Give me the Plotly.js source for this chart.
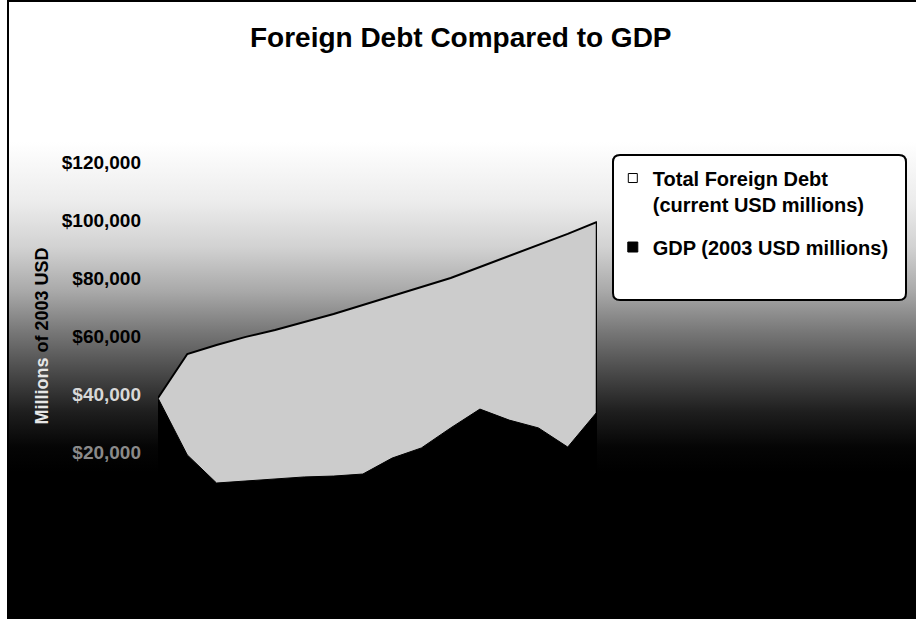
<!DOCTYPE html>
<html>
<head>
<meta charset="utf-8">
<script src="https://cdn.plot.ly/plotly-3.0.1.min.js"></script>
<style>
  html, body { margin: 0; padding: 0; background: #ffffff; overflow: hidden; }
  #wrap { position: relative; width: 916px; height: 619px; overflow: hidden; background: #ffffff; }
  #frame {
    position: absolute; left: 7px; top: 0px; width: 915px; height: 616px;
    border: 2px solid #000000;
    background: linear-gradient(to bottom,
      #ffffff 0px, #ffffff 140px, #ececec 200px, #d2d2d2 245px, #a8a8a8 290px,
      #777777 330px, #4a4a4a 370px, #1e1e1e 410px, #050505 445px, #000000 470px, #000000 619px);
  }
  #chart { position: absolute; left: 0; top: 0; width: 916px; height: 619px; }
</style>
</head>
<body>
<div id="wrap">
  <div id="frame"></div>
  <div id="chart"></div>
</div>
<script>
// Categories (no labels are printed in the reference; 16 evenly spaced periods)
const years = [1990, 1991, 1992, 1993, 1994, 1995, 1996, 1997,
               1998, 1999, 2000, 2001, 2002, 2003, 2004, 2005];

// Total Foreign Debt (current USD millions)
const foreignDebt = [38600, 53800, 56900, 59700, 62100, 64800, 67600, 70700,
                     73800, 76900, 80000, 83800, 87600, 91400, 95200, 99300];

// GDP (2003 USD millions)
const gdp = [38600, 19000, 9300, 10000, 10700, 11400, 11700, 12400,
             17900, 21400, 28300, 34800, 31000, 28300, 21700, 33800];

// Y tick values / labels
const yTickVals = [0, 20000, 40000, 60000, 80000, 100000, 120000];
const yTickText = ['$0', '$20,000', '$40,000', '$60,000', '$80,000', '$100,000', '$120,000'];

const seriesNames = ['Total Foreign Debt<br>(current USD millions)', 'GDP (2003 USD millions)'];

// tick labels sitting on the dark part of the background are drawn light
function tickColor(v) {
  if (v === 40000) return '#d8d8d8';
  if (v === 20000) return '#8a8a8a';
  return '#000000';
}
const styledTicks = yTickText.map((t, i) =>
  '<span style="color:' + tickColor(yTickVals[i]) + '">' + t + '</span>');

const FONT = 'Liberation Sans, Arial, sans-serif';
const lastX = years[years.length - 1];
const lastDebt = foreignDebt[foreignDebt.length - 1];

const traces = [
  { // debt area
    x: years, y: foreignDebt, type: 'scatter', mode: 'lines',
    fill: 'tozeroy', fillcolor: '#cccccc',
    line: { color: '#000000', width: 2 },
    showlegend: false, hoverinfo: 'skip'
  },
  { // debt area right edge (outline of the area)
    x: [lastX, lastX], y: [0, lastDebt], type: 'scatter', mode: 'lines',
    line: { color: '#000000', width: 2.5 },
    showlegend: false, hoverinfo: 'skip'
  },
  { // GDP area
    x: years, y: gdp, type: 'scatter', mode: 'lines',
    fill: 'tozeroy', fillcolor: '#000000',
    line: { color: '#000000', width: 1 },
    showlegend: false, hoverinfo: 'skip'
  },
  { // legend entries
    x: [null], y: [null], type: 'scatter', mode: 'markers',
    name: seriesNames[0], legendgroup: 'a',
    marker: { symbol: 'square', size: 9, color: '#ffffff', line: { color: '#000000', width: 1 } }
  },
  {
    x: [null], y: [null], type: 'scatter', mode: 'markers',
    name: seriesNames[1], legendgroup: 'b',
    marker: { symbol: 'square', size: 10, color: '#000000', line: { color: '#000000', width: 1 } }
  }
];

// legend box frame (rounded rectangle, paper coordinates of the plot area)
const bx0 = (613 - 158) / 439, bx1 = (906 - 158) / 439;
const by0 = (510 - 300) / 348, by1 = (510 - 155) / 348;
const rx = 7 / 439, ry = 7 / 348;
const boxPath = 'M' + (bx0 + rx) + ',' + by1 +
  ' L' + (bx1 - rx) + ',' + by1 + ' Q' + bx1 + ',' + by1 + ' ' + bx1 + ',' + (by1 - ry) +
  ' L' + bx1 + ',' + (by0 + ry) + ' Q' + bx1 + ',' + by0 + ' ' + (bx1 - rx) + ',' + by0 +
  ' L' + (bx0 + rx) + ',' + by0 + ' Q' + bx0 + ',' + by0 + ' ' + bx0 + ',' + (by0 + ry) +
  ' L' + bx0 + ',' + (by1 - ry) + ' Q' + bx0 + ',' + by1 + ' ' + (bx0 + rx) + ',' + by1 + ' Z';

const layout = {
  width: 916, height: 619,
  paper_bgcolor: 'rgba(0,0,0,0)', plot_bgcolor: 'rgba(0,0,0,0)',
  margin: { l: 158, r: 319, t: 162, b: 109, pad: 0 },
  font: { family: FONT, color: '#000000' },
  title: {
    text: 'Foreign Debt Compared to GDP',
    font: { family: FONT, size: 28, weight: 'bold', color: '#000000' },
    x: 0.503, xanchor: 'center', xref: 'container',
    y: 0.94, yanchor: 'middle', yref: 'container'
  },
  xaxis: {
    range: [years[0], lastX], showticklabels: false, showgrid: false,
    zeroline: false, showline: false, ticks: '', fixedrange: true
  },
  yaxis: {
    range: [0, 120000], tickvals: yTickVals, ticktext: styledTicks,
    tickfont: { family: FONT, size: 19, weight: 'bold', color: '#000000' },
    showgrid: false, zeroline: false, showline: false, ticks: '',
    ticklabelstandoff: 16,
    title: {
      text: '<span style="color:#e6e6e6">Millions</span> of 2003 USD',
      font: { family: FONT, size: 18, weight: 'bold', color: '#000000' },
      standoff: 8
    },
    fixedrange: true
  },
  shapes: [{
    type: 'path', xref: 'paper', yref: 'paper', path: boxPath,
    fillcolor: '#ffffff', line: { color: '#000000', width: 2 }, layer: 'below'
  }],
  legend: {
    x: 1.036, xanchor: 'left', y: 1.01, yanchor: 'top',
    bgcolor: 'rgba(0,0,0,0)', borderwidth: 0,
    font: { family: FONT, size: 20, weight: 'bold', color: '#000000' },
    tracegroupgap: 14, valign: 'top', itemwidth: 30
  },
  showlegend: true
};

Plotly.newPlot('chart', traces, layout, { displayModeBar: false, staticPlot: true });
</script>
</body>
</html>
